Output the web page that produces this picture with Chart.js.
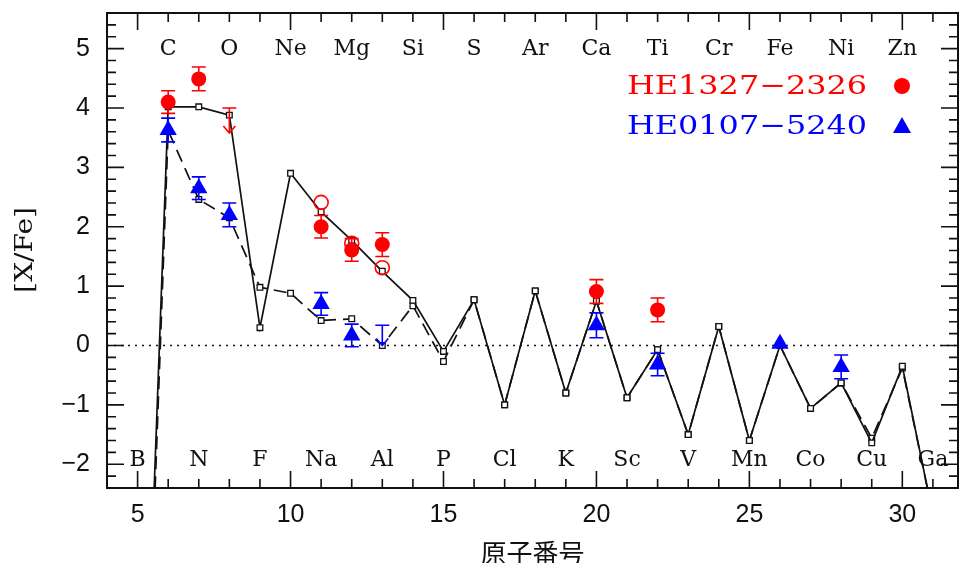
<!DOCTYPE html>
<html>
<head>
<meta charset="utf-8">
<script src="https://cdn.jsdelivr.net/npm/chart.js@4/dist/chart.umd.min.js"></script>
<style>
  html, body { margin: 0; padding: 0; background: #fff; }
  #wrap { width: 960px; height: 563px; }
</style>
</head>
<body>
<div id="wrap"><canvas id="abund" width="960" height="563"></canvas></div>
<script>
// ---- data ----
const atomicNumbers = [5, 6, 7, 8, 9, 10, 11, 12, 13, 14, 15, 16, 17, 18, 19, 20, 21, 22, 23, 24, 25, 26, 27, 28, 29, 30, 31];
const elementSymbols = ['B', 'C', 'N', 'O', 'F', 'Ne', 'Na', 'Mg', 'Al', 'Si', 'P', 'S', 'Cl', 'Ar', 'K', 'Ca', 'Sc', 'Ti', 'V', 'Cr', 'Mn', 'Fe', 'Co', 'Ni', 'Cu', 'Zn', 'Ga'];

// model yields (solid and dashed curves)
const modelSolid = [-10, 4.02, 4.02, 3.88, 0.30, 2.90, 2.25, 1.77, 1.25, 0.76, -0.10, 0.77, -1.00, 0.92, -0.80, 0.75, -0.88, -0.07, -1.50, 0.32, -1.60, 0.00, -1.06, -0.63, -1.64, -0.35, -2.85];
const modelDashed = [-10.5, 3.62, 2.46, 2.15, 0.98, 0.88, 0.42, 0.45, 0.00, 0.67, -0.27, 0.77, -1.00, 0.92, -0.80, 0.75, -0.88, -0.07, -1.50, 0.32, -1.60, 0.00, -1.06, -0.63, -1.56, -0.38, -2.85];

// HE1327-2326
const redZ = [6, 7, 11, 12, 13, 20, 22];
const redVal = [4.10, 4.49, 2.00, 1.61, 1.70, 0.91, 0.60];
const redErr = [0.19, 0.20, 0.19, 0.19, 0.20, 0.20, 0.20];
const redOpenZ = [11, 12, 13];
const redOpenVal = [2.41, 1.72, 1.31];
const redLimitZ = [8];
const redLimitVal = [4.00];

// HE0107-5240
const blueZ = [6, 7, 8, 11, 12, 20, 22, 26, 28];
const blueVal = [3.63, 2.65, 2.20, 0.70, 0.17, 0.34, -0.32, 0.03, -0.36];
const blueErr = [0.20, 0.19, 0.20, 0.19, 0.19, 0.21, 0.19, 0, 0.20];
const blueLimitZ = [13];
const blueLimitVal = [0.34];

const xTickLabels = [5, 10, 15, 20, 25, 30];
const yTickLabels = [-2, -1, 0, 1, 2, 3, 4, 5];

const RED = '#ff0000';
const BLUE = '#0000ff';
const INK = '#111111';

function pts(xs, ys) {
    return xs.map((x, i) => ({ x, y: ys[i] }));
}

function fmtMinus(v) {
    return v < 0 ? '\u2212' + Math.abs(v) : String(v);
}

// scaled text so the wide plotter lettering is imitated
function wideText(ctx, text, x, y, font, width, align) {
    ctx.save();
    ctx.font = font;
    const w = ctx.measureText(text).width;
    const s = width ? width / w : 1;
    ctx.translate(x, y);
    ctx.scale(s, 1);
    ctx.textAlign = align || 'left';
    ctx.fillText(text, 0, 0);
    ctx.restore();
}

function errorBar(ctx, x, yLo, yHi, color) {
    ctx.save();
    ctx.strokeStyle = color;
    ctx.lineWidth = 1.6;
    ctx.beginPath();
    ctx.moveTo(x, yLo); ctx.lineTo(x, yHi);
    ctx.moveTo(x - 7, yLo); ctx.lineTo(x + 7, yLo);
    ctx.moveTo(x - 7, yHi); ctx.lineTo(x + 7, yHi);
    ctx.stroke();
    ctx.restore();
}

function upperLimit(ctx, x, yCap, yTip, color) {
    ctx.save();
    ctx.strokeStyle = color;
    ctx.lineWidth = 1.6;
    ctx.beginPath();
    ctx.moveTo(x - 7, yCap); ctx.lineTo(x + 7, yCap);
    ctx.moveTo(x, yCap); ctx.lineTo(x, yTip);
    ctx.moveTo(x - 6, yTip - 7); ctx.lineTo(x, yTip); ctx.lineTo(x + 6, yTip - 7);
    ctx.stroke();
    ctx.restore();
}

function noPad(s) {
    s.paddingTop = 0;
    s.paddingBottom = 0;
    s.paddingLeft = 0;
    s.paddingRight = 0;
}

const decorations = {
    id: 'decorations',
    beforeDatasetsDraw(chart) {
        const { ctx, chartArea: a, scales: { y } } = chart;
        const y0 = y.getPixelForValue(0);
        ctx.save();
        ctx.strokeStyle = INK;
        ctx.lineWidth = 1.6;
        ctx.setLineDash([2, 5]);
        ctx.beginPath();
        ctx.moveTo(a.left, y0); ctx.lineTo(a.right, y0);
        ctx.stroke();
        ctx.restore();
    },
    afterDatasetsDraw(chart) {
        const { ctx, scales: { x, y } } = chart;
        redZ.forEach((z, i) => {
            errorBar(ctx, x.getPixelForValue(z), y.getPixelForValue(redVal[i] - redErr[i]), y.getPixelForValue(redVal[i] + redErr[i]), RED);
        });
        blueZ.forEach((z, i) => {
            if (!blueErr[i]) return;
            errorBar(ctx, x.getPixelForValue(z), y.getPixelForValue(blueVal[i] - blueErr[i]), y.getPixelForValue(blueVal[i] + blueErr[i]), BLUE);
        });
        redLimitZ.forEach((z, i) => {
            upperLimit(ctx, x.getPixelForValue(z), y.getPixelForValue(redLimitVal[i]), y.getPixelForValue(redLimitVal[i] - 0.42), RED);
        });
        blueLimitZ.forEach((z, i) => {
            upperLimit(ctx, x.getPixelForValue(z), y.getPixelForValue(blueLimitVal[i]), y.getPixelForValue(blueLimitVal[i] - 0.34), BLUE);
        });
    },
    afterDraw(chart) {
        const { ctx, chartArea: a, scales: { x, y } } = chart;
        ctx.save();
        // frame
        ctx.strokeStyle = INK;
        ctx.lineWidth = 2;
        ctx.strokeRect(a.left, a.top, a.right - a.left, a.bottom - a.top);
        // inward ticks
        ctx.lineWidth = 1.6;
        ctx.beginPath();
        for (let v = 4; v <= 31; v++) {
            const px = x.getPixelForValue(v);
            const len = v % 5 === 0 ? 17 : 9;
            ctx.moveTo(px, a.bottom); ctx.lineTo(px, a.bottom - len);
            ctx.moveTo(px, a.top); ctx.lineTo(px, a.top + len);
        }
        for (let k = -12; k <= 28; k++) {
            const py = y.getPixelForValue(k / 5);
            const len = k % 5 === 0 ? 17 : 9;
            ctx.moveTo(a.left, py); ctx.lineTo(a.left + len, py);
            ctx.moveTo(a.right, py); ctx.lineTo(a.right - len, py);
        }
        ctx.stroke();

        // element symbols
        ctx.fillStyle = INK;
        ctx.font = '22px "DejaVu Serif"';
        ctx.textAlign = 'center';
        ctx.textBaseline = 'middle';
        atomicNumbers.forEach((z, i) => {
            const px = x.getPixelForValue(z);
            const py = z % 2 === 0 ? a.top + 36 : a.bottom - 28;
            ctx.fillText(elementSymbols[i], px, py);
        });

        // legend
        ctx.textBaseline = 'middle';
        ctx.fillStyle = RED;
        wideText(ctx, 'HE1327\u22122326', 627, 87, '26px "DejaVu Serif"', 240, 'left');
        ctx.fillStyle = BLUE;
        wideText(ctx, 'HE0107\u22125240', 627, 127, '26px "DejaVu Serif"', 240, 'left');
        ctx.fillStyle = RED;
        ctx.beginPath(); ctx.arc(902, 86, 8, 0, Math.PI * 2); ctx.fill();
        ctx.fillStyle = BLUE;
        ctx.beginPath();
        ctx.moveTo(902, 117); ctx.lineTo(911, 133); ctx.lineTo(893, 133); ctx.closePath();
        ctx.fill();

        // axis titles
        ctx.fillStyle = INK;
        ctx.save();
        ctx.translate(25, 250);
        ctx.rotate(-Math.PI / 2);
        wideText(ctx, '[X/Fe]', 0, 0, '25px "DejaVu Serif"', 86, 'center');
        ctx.restore();
        ctx.font = '26px "Noto Sans CJK JP"';
        ctx.textAlign = 'center';
        ctx.fillText('原子番号', (a.left + a.right) / 2, 553);
        ctx.restore();
    }
};

new Chart(document.getElementById('abund'), {
    type: 'scatter',
    data: {
        datasets: [
            {
                label: 'HE1327-2326',
                data: pts(redZ, redVal),
                pointStyle: 'circle',
                pointRadius: 7.5,
                backgroundColor: RED,
                borderColor: RED,
                borderWidth: 0,
                order: 1,
            },
            {
                label: 'HE1327-2326 (alt)',
                data: pts(redOpenZ, redOpenVal),
                pointStyle: 'circle',
                pointRadius: 7,
                backgroundColor: 'rgba(0,0,0,0)',
                borderColor: RED,
                borderWidth: 1.6,
                order: 2,
            },
            {
                label: 'HE0107-5240',
                data: pts(blueZ, blueVal),
                pointStyle: 'triangle',
                pointRadius: 10,
                backgroundColor: BLUE,
                borderColor: BLUE,
                borderWidth: 0,
                order: 1,
            },
            {
                label: 'model dashed',
                data: pts(atomicNumbers, modelDashed),
                showLine: true,
                borderColor: INK,
                borderWidth: 1.7,
                borderDash: [13, 7],
                pointStyle: 'rect',
                pointRadius: 4,
                pointBorderWidth: 1.3,
                pointBackgroundColor: '#fff',
                pointBorderColor: INK,
                order: 4,
            },
            {
                label: 'model solid',
                data: pts(atomicNumbers, modelSolid),
                showLine: true,
                borderColor: INK,
                borderWidth: 1.7,
                pointStyle: 'rect',
                pointRadius: 4,
                pointBorderWidth: 1.3,
                pointBackgroundColor: '#fff',
                pointBorderColor: INK,
                order: 3,
            },
        ],
    },
    options: {
        responsive: false,
        animation: false,
        devicePixelRatio: 1,
        layout: { autoPadding: false, padding: { top: 13, right: 2, left: 0, bottom: 0 } },
        plugins: {
            legend: { display: false },
            tooltip: { enabled: false },
        },
        scales: {
            x: {
                type: 'linear',
                min: 4,
                max: 31.82,
                grid: { display: false, drawTicks: false },
                border: { display: false },
                afterBuildTicks: (s) => { s.ticks = xTickLabels.map(v => ({ value: v })); },
                afterFit: (s) => { s.height = 75; noPad(s); },
                ticks: {
                    padding: 12,
                    color: INK,
                    font: { family: '"Liberation Sans"', size: 25 },
                    callback: (v) => fmtMinus(v),
                },
            },
            y: {
                type: 'linear',
                min: -2.4,
                max: 5.6,
                grid: { display: false, drawTicks: false },
                border: { display: false },
                afterBuildTicks: (s) => { s.ticks = yTickLabels.map(v => ({ value: v })); },
                afterFit: (s) => { s.width = 107; noPad(s); },
                ticks: {
                    padding: 17,
                    color: INK,
                    font: { family: '"Liberation Sans"', size: 25 },
                    callback: (v) => fmtMinus(v),
                },
            },
        },
    },
    plugins: [decorations],
});
</script>
</body>
</html>
